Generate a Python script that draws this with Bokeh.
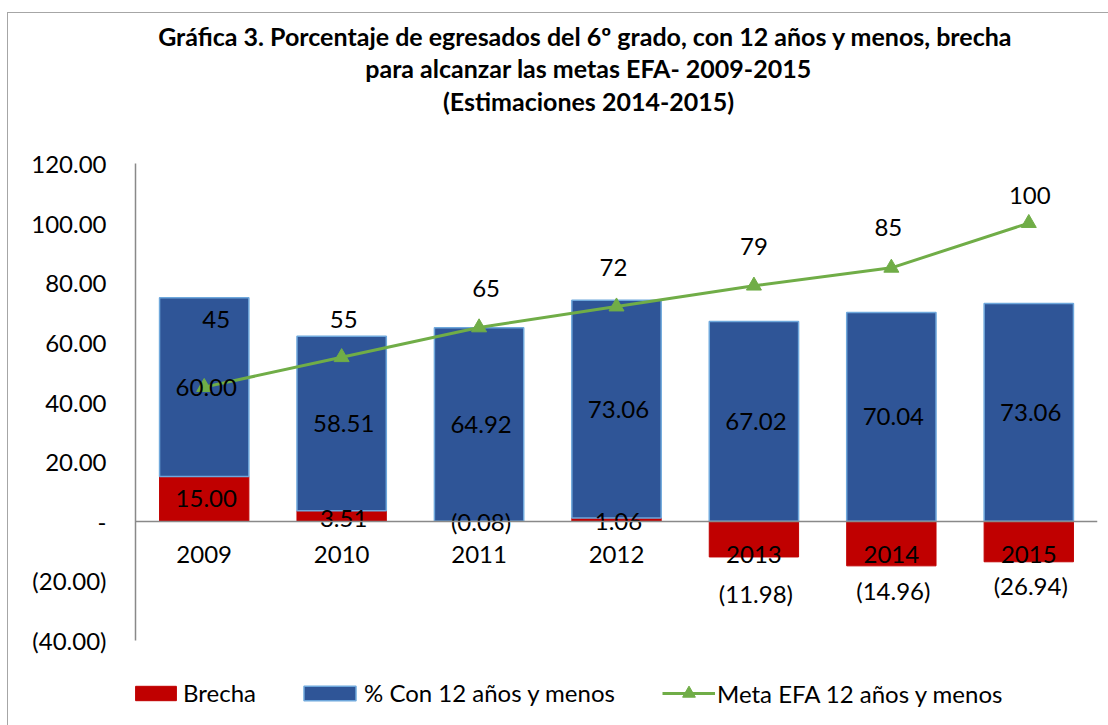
from bokeh.plotting import figure
from bokeh.models import (ColumnDataSource, FactorRange, Range1d, FixedTicker, Label,
                          Legend, LegendItem)
from bokeh.core.properties import value
from bokeh.embed import file_html
from bokeh.resources import INLINE

# ---------------- data ----------------
years = ["2009", "2010", "2011", "2012", "2013", "2014", "2015"]
con12 = [60.00, 58.51, 64.92, 73.06, 67.02, 70.04, 73.06]          # % Con 12 años y menos
brecha = [15.00, 3.51, -0.08, 1.06, -11.98, -14.96, -26.94]         # Brecha (labelled values)
brecha_drawn = [15.00, 3.51, -0.08, 1.06, -11.98, -14.96, -13.6]    # Brecha bar heights as drawn
meta = [45, 55, 65, 72, 79, 85, 100]                                # Meta EFA 12 años y menos
y_ticks = [-40, -20, 0, 20, 40, 60, 80, 100, 120]
y_tick_labels = ["(40.00)", "(20.00)", "-", "20.00", "40.00", "60.00", "80.00", "100.00", "120.00"]
title_lines = [
    "Gráfica 3. Porcentaje de egresados del 6º grado, con 12 años y menos,  brecha",
    "para alcanzar las metas EFA- 2009-2015",
    "(Estimaciones 2014-2015)",
]
series_names = ["Brecha", "% Con 12 años y menos", "Meta EFA 12 años y menos"]

# ---------------- layout / styling (pixels) ----------------
W, H = 1108, 725
FRAME_L, FRAME_R = 135, 1097          # plot area left / right
PX_TOP, PX_BOT = 163, 640             # pixel rows of y = 120 and y = -40
meta_label_dx = [12, 2, 7, -3, 0, -3, 1]
meta_label_dy = [-68, -38, -39, -39, -39, -40, -28]
brecha_label_dy = [0, 2, 0, 2, 54, 47, 44]
FONT = "Lato"
FS = "24px"
RED, BLUE, BLUE_EDGE, GREEN, GREY = "#C00000", "#2F5597", "#6FA8DC", "#70AD47", "#898989"

y_lo, y_hi = y_ticks[0], y_ticks[-1]
ppu = (PX_BOT - PX_TOP) / (y_hi - y_lo)
y_start = y_lo - (H - PX_BOT) / ppu
y_end = y_hi + PX_TOP / ppu


def acct(v):
    return f"({abs(v):.2f})" if v < 0 else f"{v:.2f}"


red_bottom = [0.0] * len(years)
red_top = list(brecha_drawn)
blue_bottom = [max(b, 0.0) for b in brecha_drawn]
blue_top = [b + c for b, c in zip(blue_bottom, con12)]

red_src = ColumnDataSource(dict(
    x=years, bottom=red_bottom, top=red_top,
    ly=[b / 2 for b in brecha_drawn], txt=[acct(v) for v in brecha],
    dx=[2] * len(years), dy=brecha_label_dy))
blue_src = ColumnDataSource(dict(
    x=years, bottom=blue_bottom, top=blue_top,
    ly=[b + c / 2 for b, c in zip(blue_bottom, con12)], txt=[f"{v:.2f}" for v in con12],
    dx=[2] * len(years), dy=[0] * len(years)))
meta_src = ColumnDataSource(dict(
    x=years, y=meta, txt=[str(v) for v in meta], dx=meta_label_dx, dy=meta_label_dy))

p = figure(x_range=FactorRange(*years), y_range=Range1d(y_start, y_end), title=None,
           width=W, height=H, output_backend="svg", toolbar_location=None,
           min_border_left=FRAME_L, min_border_right=W - FRAME_R,
           min_border_top=0, min_border_bottom=0)
p.border_fill_color = None
p.background_fill_color = None
p.styles = {"background": "linear-gradient(#A6A6A6,#A6A6A6) 7px 12px / 1px 713px no-repeat, "
                          "linear-gradient(#A6A6A6,#A6A6A6) 7px 12px / 1101px 1px no-repeat, white"}
p.outline_line_color = None
p.xgrid.visible = False
p.ygrid.visible = False

red = p.vbar(x="x", top="top", bottom="bottom", width=0.65, source=red_src,
             fill_color=RED, line_color=RED, line_width=1)
blue = p.vbar(x="x", top="top", bottom="bottom", width=0.65, source=blue_src,
              fill_color=BLUE, line_color=BLUE_EDGE, line_width=1.5)
line = p.line(x="x", y="y", source=meta_src, line_color=GREEN, line_width=3)
tri = p.scatter(x="x", y="y", source=meta_src, marker="triangle", size=15,
                fill_color=GREEN, line_color=GREEN)

for src in (red_src, blue_src):
    p.text(x="x", y="ly", text="txt", source=src, x_offset="dx", y_offset="dy",
           text_font=value(FONT), text_font_size=FS, text_color="black",
           text_align="center", text_baseline="middle")
p.text(x="x", y="y", text="txt", source=meta_src, x_offset="dx", y_offset="dy",
       text_font=value(FONT), text_font_size=FS, text_color="black",
       text_align="center", text_baseline="middle")

# axes
xa = p.xaxis[0]
xa.fixed_location = 0
xa.axis_line_color = GREY
xa.axis_line_width = 1.5
xa.major_tick_line_color = None
xa.minor_tick_line_color = None
xa.major_label_text_font = FONT
xa.major_label_text_font_size = FS
xa.major_label_text_color = "black"
xa.major_label_standoff = 19

ya = p.yaxis[0]
ya.ticker = FixedTicker(ticks=y_ticks)
ya.bounds = (y_lo, y_hi)
ya.major_label_overrides = {t: s for t, s in zip(y_ticks, y_tick_labels)}
ya.axis_line_color = GREY
ya.axis_line_width = 1.5
ya.major_tick_line_color = None
ya.minor_tick_line_color = None
ya.major_label_text_font = FONT
ya.major_label_text_font_size = FS
ya.major_label_text_color = "black"
ya.major_label_standoff = 23

# title (three centred lines), positioned in px from the plot-area bottom-left
for txt, cy in zip(title_lines, [35, 67, 100]):
    p.add_layout(Label(x=588 - FRAME_L, y=H - cy, x_units="screen", y_units="screen", text=txt,
                       text_font=FONT, text_font_style="bold", text_font_size="25px",
                       text_color="black", text_align="center", text_baseline="middle"))


def one_legend(item, vx, vy, gw, gh):
    return Legend(items=[item], location=(vx, vy), orientation="horizontal",
                  glyph_width=gw, glyph_height=gh,
                  label_text_font=FONT, label_text_font_size=FS, label_text_color="black",
                  spacing=0, padding=0, margin=0, label_standoff=2,
                  border_line_color=None, background_fill_alpha=0)


p.add_layout(one_legend(LegendItem(label=series_names[0], renderers=[red]), -5, 18, 51, 18))
p.add_layout(one_legend(LegendItem(label=series_names[1], renderers=[blue]), 162, 18, 65, 18))
p.add_layout(one_legend(LegendItem(label=series_names[2], renderers=[line, tri]), 527, 16, 53, 32))

open("out.html", "w").write(file_html(p, INLINE))
